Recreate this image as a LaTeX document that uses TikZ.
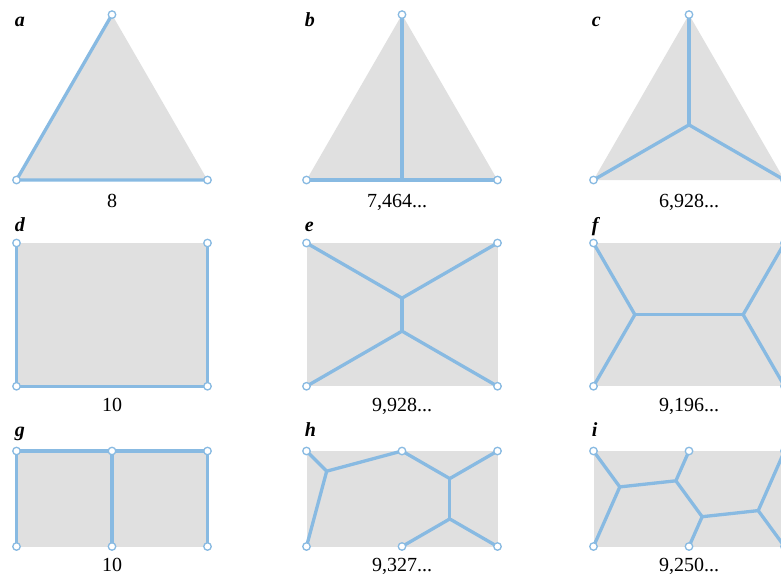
\documentclass[tikz,border=0pt]{standalone}
\usepackage{fontspec}
\setmainfont{Liberation Serif}
\usetikzlibrary{backgrounds}

\definecolor{edgeblue}{RGB}{136,186,226}
\definecolor{plategray}{RGB}{224,224,224}

\tikzset{
    plate/.style={fill=plategray, draw=none},
    edge/.style={draw=edgeblue, line width=3.3pt, line cap=round, line join=round},
    term/.style={circle, draw=edgeblue, fill=white, line width=1.3pt, inner sep=0pt, minimum size=7.5pt},
    tag/.style={anchor=base west, inner sep=0pt, font=\fontsize{20}{24}\selectfont\bfseries\itshape},
    value/.style={anchor=base, inner sep=0pt, font=\fontsize{20}{24}\selectfont},
}

\begin{document}
\begin{tikzpicture}[x=47.75pt, y=-47.75pt]
    \useasboundingbox (0pt,0pt) rectangle (781pt,-576pt);
    \begin{pgfonlayer}{background}
        \fill[white] (0pt,0pt) rectangle (781pt,-576pt);
    \end{pgfonlayer}

    % Row 1: triangles
    \begin{scope}[shift={(16.5pt,-14.6pt)}]
        \node[term] (a1) at (0,3.464) {};
        \node[term] (a2) at (2,0) {};
        \node[term] (a3) at (4,3.464) {};
        \begin{pgfonlayer}{background}
            \fill[plate] (0,3.464) -- (2,0) -- (4,3.464) -- cycle;
            \draw[edge] (a2.center) -- (a1.center) -- (a3.center);
        \end{pgfonlayer}
        \node[tag] (la) at (-0.04,0.24) {a};
        \node[value] (va) at (2,4.03) {8};
    \end{scope}

    \begin{scope}[shift={(306.5pt,-14.6pt)}]
        \node[term] (b1) at (0,3.464) {};
        \node[term] (b2) at (2,0) {};
        \node[term] (b3) at (4,3.464) {};
        \coordinate (bm) at (2,3.464);
        \begin{pgfonlayer}{background}
            \fill[plate] (0,3.464) -- (2,0) -- (4,3.464) -- cycle;
            \draw[edge] (b1.center) -- (b3.center);
            \draw[edge] (b2.center) -- (bm);
        \end{pgfonlayer}
        \node[tag] (lb) at (-0.04,0.24) {b};
        \node[value] (vb) at (1.9,4.03) {7,464...};
    \end{scope}

    \begin{scope}[shift={(593.5pt,-14.6pt)}]
        \node[term] (c1) at (0,3.464) {};
        \node[term] (c2) at (2,0) {};
        \node[term] (c3) at (4,3.464) {};
        \coordinate (cs) at (2,2.309);
        \begin{pgfonlayer}{background}
            \fill[plate] (0,3.464) -- (2,0) -- (4,3.464) -- cycle;
            \foreach \t in {c1,c2,c3}
                \draw[edge] (\t.center) -- (cs);
        \end{pgfonlayer}
        \node[tag] (lc) at (-0.04,0.24) {c};
        \node[value] (vc) at (2,4.03) {6,928...};
    \end{scope}

    % Row 2: 4 x 3 rectangles
    \begin{scope}[shift={(16.5pt,-243pt)}]
        \node[term] (d1) at (0,0) {};
        \node[term] (d2) at (4,0) {};
        \node[term] (d3) at (0,3) {};
        \node[term] (d4) at (4,3) {};
        \begin{pgfonlayer}{background}
            \fill[plate] (0,0) rectangle (4,3);
            \draw[edge] (d1.center) -- (d3.center) -- (d4.center) -- (d2.center);
        \end{pgfonlayer}
        \node[tag] (ld) at (-0.04,-0.24) {d};
        \node[value] (vd) at (2,3.52) {10};
    \end{scope}

    \begin{scope}[shift={(306.5pt,-243pt)}]
        \node[term] (e1) at (0,0) {};
        \node[term] (e2) at (4,0) {};
        \node[term] (e3) at (0,3) {};
        \node[term] (e4) at (4,3) {};
        \coordinate (es1) at (2,1.1547);
        \coordinate (es2) at (2,1.8453);
        \begin{pgfonlayer}{background}
            \fill[plate] (0,0) rectangle (4,3);
            \draw[edge] (e1.center) -- (es1) -- (e2.center);
            \draw[edge] (e3.center) -- (es2) -- (e4.center);
            \draw[edge] (es1) -- (es2);
        \end{pgfonlayer}
        \node[tag] (le) at (-0.04,-0.24) {e};
        \node[value] (ve) at (2,3.52) {9,928...};
    \end{scope}

    \begin{scope}[shift={(593.5pt,-243pt)}]
        \node[term] (f1) at (0,0) {};
        \node[term] (f2) at (4,0) {};
        \node[term] (f3) at (0,3) {};
        \node[term] (f4) at (4,3) {};
        \coordinate (fs1) at (0.8660,1.5);
        \coordinate (fs2) at (3.1340,1.5);
        \begin{pgfonlayer}{background}
            \fill[plate] (0,0) rectangle (4,3);
            \draw[edge] (f1.center) -- (fs1) -- (f3.center);
            \draw[edge] (f2.center) -- (fs2) -- (f4.center);
            \draw[edge] (fs1) -- (fs2);
        \end{pgfonlayer}
        \node[tag] (lf) at (-0.04,-0.24) {f};
        \node[value] (vf) at (2,3.52) {9,196...};
    \end{scope}

    % Row 3: 4 x 2 rectangles with six terminals
    \begin{scope}[shift={(16.5pt,-451pt)}]
        \node[term] (g1) at (0,0) {};
        \node[term] (g2) at (2,0) {};
        \node[term] (g3) at (4,0) {};
        \node[term] (g4) at (0,2) {};
        \node[term] (g5) at (2,2) {};
        \node[term] (g6) at (4,2) {};
        \begin{pgfonlayer}{background}
            \fill[plate] (0,0) rectangle (4,2);
            \draw[edge] (g4.center) -- (g1.center) -- (g3.center) -- (g6.center);
            \draw[edge] (g2.center) -- (g5.center);
        \end{pgfonlayer}
        \node[tag] (lg) at (-0.04,-0.31) {g};
        \node[value] (vg) at (2,2.53) {10};
    \end{scope}

    \begin{scope}[shift={(306.5pt,-451pt)}]
        \node[term] (h1) at (0,0) {};
        \node[term] (h2) at (2,0) {};
        \node[term] (h3) at (4,0) {};
        \node[term] (h4) at (0,2) {};
        \node[term] (h5) at (2,2) {};
        \node[term] (h6) at (4,2) {};
        \coordinate (hs1) at (0.4226,0.4226);
        \coordinate (hs2) at (3,0.5774);
        \coordinate (hs3) at (3,1.4226);
        \begin{pgfonlayer}{background}
            \fill[plate] (0,0) rectangle (4,2);
            \draw[edge] (h1.center) -- (hs1) -- (h4.center);
            \draw[edge] (hs1) -- (h2.center) -- (hs2) -- (h3.center);
            \draw[edge] (hs2) -- (hs3);
            \draw[edge] (h5.center) -- (hs3) -- (h6.center);
        \end{pgfonlayer}
        \node[tag] (lh) at (-0.04,-0.31) {h};
        \node[value] (vh) at (2,2.53) {9,327...};
    \end{scope}

    \begin{scope}[shift={(593.5pt,-451pt)}]
        \node[term] (i1) at (0,0) {};
        \node[term] (i2) at (2,0) {};
        \node[term] (i3) at (4,0) {};
        \node[term] (i4) at (0,2) {};
        \node[term] (i5) at (2,2) {};
        \node[term] (i6) at (4,2) {};
        \coordinate (is1) at (0.5503,0.7518);
        \coordinate (is2) at (1.7249,0.6240);
        \coordinate (is3) at (2.2751,1.3760);
        \coordinate (is4) at (3.4497,1.2482);
        \begin{pgfonlayer}{background}
            \fill[plate] (0,0) rectangle (4,2);
            \draw[edge] (i1.center) -- (is1) -- (i4.center);
            \draw[edge] (is1) -- (is2) -- (i2.center);
            \draw[edge] (is2) -- (is3) -- (i5.center);
            \draw[edge] (is3) -- (is4);
            \draw[edge] (i3.center) -- (is4) -- (i6.center);
        \end{pgfonlayer}
        \node[tag] (li) at (-0.04,-0.31) {i};
        \node[value] (vi) at (2,2.53) {9,250...};
    \end{scope}
\end{tikzpicture}
\end{document}
